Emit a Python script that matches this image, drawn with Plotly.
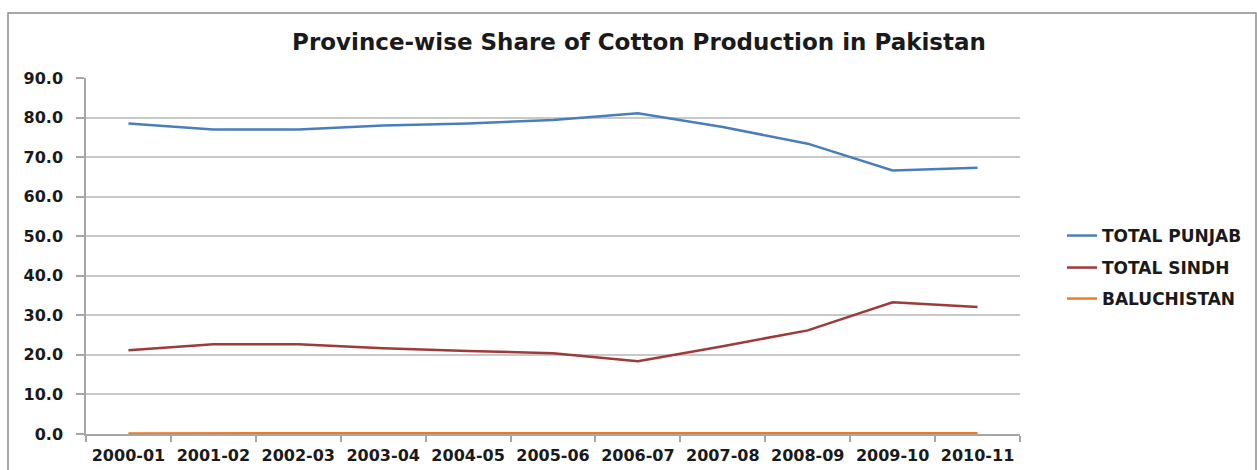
import plotly.graph_objects as go

years = ["2000-01", "2001-02", "2002-03", "2003-04", "2004-05", "2005-06",
         "2006-07", "2007-08", "2008-09", "2009-10", "2010-11"]
punjab = [78.5, 77.0, 77.0, 78.0, 78.5, 79.4, 81.1, 77.6, 73.4, 66.6, 67.3]
sindh = [21.2, 22.7, 22.7, 21.7, 21.0, 20.4, 18.4, 22.2, 26.2, 33.3, 32.1]
baluchistan = [0.1, 0.2, 0.2, 0.2, 0.2, 0.2, 0.2, 0.2, 0.2, 0.2, 0.2]

names = ["TOTAL PUNJAB", "TOTAL SINDH", "BALUCHISTAN"]
colors = ["#4a7ebb", "#9e3a38", "#f07b23"]
series = [punjab, sindh, baluchistan]

W, H = 1257, 470
L, R, T, B = 86, 1020, 78, 434
FONT = "DejaVu Sans"

fig = go.Figure()
legend_names = ["legend", "legend2", "legend3"]
legend_y = [236, 268, 299]
for s, n, c, lg in zip(series, names, colors, legend_names):
    fig.add_trace(go.Scatter(x=years, y=s, name=n, mode="lines",
                             line=dict(color=c, width=2.5), legend=lg))

pw, ph = R - L, B - T
def px_x(x):
    return (x - L) / pw
def px_y(y):
    return (B - y) / ph

layout_legends = {}
for lg, ly in zip(legend_names, legend_y):
    layout_legends[lg] = dict(x=px_x(1062), y=px_y(ly), xanchor="left", yanchor="middle",
                              font=dict(family=FONT, size=17, color="#1a1a1a", weight="bold"),
                              bgcolor="rgba(0,0,0,0)", borderwidth=0,
                              itemwidth=30)

fig.update_layout(
    width=W, height=H,
    margin=dict(l=L, r=W - R, t=T, b=H - B, autoexpand=False),
    paper_bgcolor="white", plot_bgcolor="white",
    title=dict(text="<b>Province-wise Share of Cotton Production in Pakistan</b>",
               x=639 / W, xref="container", xanchor="center",
               y=1 - 42 / H, yref="container", yanchor="middle",
               font=dict(family=FONT, size=23, color="#1a1a1a")),
    showlegend=True,
    **layout_legends,
    xaxis=dict(type="category", range=[-0.5, 10.5], showgrid=False, automargin=False,
               showline=True, linecolor="#a6a6a6", linewidth=1.5,
               ticks="outside", tickson="boundaries", ticklen=6, tickcolor="#a6a6a6",
               tickwidth=1.5, ticklabelstandoff=6,
               tickfont=dict(family=FONT, size=16, color="#1a1a1a", weight="bold")),
    yaxis=dict(range=[0, 90], dtick=10, tickformat=".1f", automargin=False,
               showgrid=True, gridcolor="#c9c9c9", gridwidth=1.5,
               showline=True, linecolor="#a6a6a6", linewidth=1.5,
               ticks="outside", ticklen=8, tickcolor="#a6a6a6", tickwidth=1.5,
               ticklabelstandoff=10, zeroline=False,
               tickfont=dict(family=FONT, size=16, color="#1a1a1a", weight="bold")),
    shapes=[dict(type="rect", xref="paper", yref="paper",
                 x0=px_x(8), x1=px_x(1256), y0=px_y(480), y1=px_y(13),
                 line=dict(color="#8c8c8c", width=1.5), fillcolor="rgba(0,0,0,0)",
                 layer="below")],
)

fig.write_html("out.html")
